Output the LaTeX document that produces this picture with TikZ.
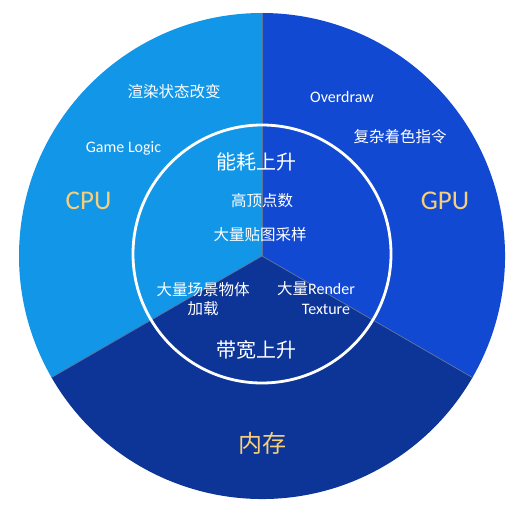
\documentclass[tikz,border=0pt]{standalone}
\usepackage{fontspec}
\setmainfont{Carlito}
\newfontfamily\cjk{Noto Sans CJK SC}
\definecolor{cpublue}{HTML}{1296E8}
\definecolor{gpublue}{HTML}{1249D3}
\definecolor{memblue}{HTML}{0D3598}
\definecolor{sepgray}{HTML}{5E74A0}
\definecolor{gold}{HTML}{F7CF78}
\tikzset{
  lbl/.style={text=white, inner sep=0pt, font=\fontsize{15.5}{18}\selectfont},
  biglbl/.style={text=white, inner sep=0pt, font=\fontsize{20}{24}\selectfont\cjk},
  title/.style={text=gold, inner sep=0pt, font=\fontsize{27}{30}\selectfont},
  sepline/.style={draw=sepgray, line width=0.7pt},
}
\begin{document}
\begin{tikzpicture}[x=1pt,y=1pt]
\useasboundingbox (0,0) rectangle (524,512);
\coordinate (c) at (262,256);
\def\R{243}
% sectors
\fill[cpublue] (c) -- ++(90:\R) arc[start angle=90, end angle=210, radius=\R] -- cycle;
\fill[gpublue] (c) -- ++(-30:\R) arc[start angle=-30, end angle=90, radius=\R] -- cycle;
\fill[memblue] (c) -- ++(210:\R) arc[start angle=210, end angle=330, radius=\R] -- cycle;
% separators
\path (c) ++(90:\R) coordinate (top) (c) ++(210:\R) coordinate (bl) (c) ++(330:\R) coordinate (br);
\draw[sepline] (c) -- (top);
\draw[sepline] (c) -- (bl);
\draw[sepline] (c) -- (br);
% inner circle
\draw[white, line width=2.8pt] (262,258) circle[radius=129];
% labels
\node[title] (cpu) at (88.5,311) {CPU};
\node[title] (gpu) at (445,311) {GPU};
\node[title, font=\fontsize{24}{28}\selectfont\cjk] (mem) at (262,69) {内存};
\node[lbl, font=\fontsize{15.5}{18}\selectfont\cjk] (xr) at (174,420) {渲染状态改变};
\node[lbl, font=\fontsize{16}{18}\selectfont] (gl) at (123.5,364) {Game Logic};
\node[lbl, font=\fontsize{16}{18}\selectfont] (od) at (342,415) {Overdraw};
\node[lbl, font=\fontsize{15.5}{18}\selectfont\cjk] (fz) at (400,375) {复杂着色指令};
\node[biglbl] (nh) at (256.5,350) {能耗上升};
\node[lbl, font=\fontsize{15.5}{18}\selectfont\cjk] (gd) at (262,311) {高顶点数};
\node[lbl, font=\fontsize{15.5}{18}\selectfont\cjk] (tt) at (260,277) {大量贴图采样};
\node[lbl, font=\fontsize{15.5}{18}\selectfont\cjk] (cj1) at (203,222) {大量场景物体};
\node[lbl, font=\fontsize{15.5}{18}\selectfont\cjk] (cj2) at (203,203) {加载};
\node[lbl, font=\fontsize{16}{18}\selectfont] (rt1) at (316,223) {{\cjk\fontsize{15.5}{18}\selectfont 大量}Render};
\node[lbl, font=\fontsize{16}{18}\selectfont] (rt2) at (326,203) {Texture};
\node[biglbl] (kd) at (256,162) {带宽上升};
\end{tikzpicture}
\end{document}
